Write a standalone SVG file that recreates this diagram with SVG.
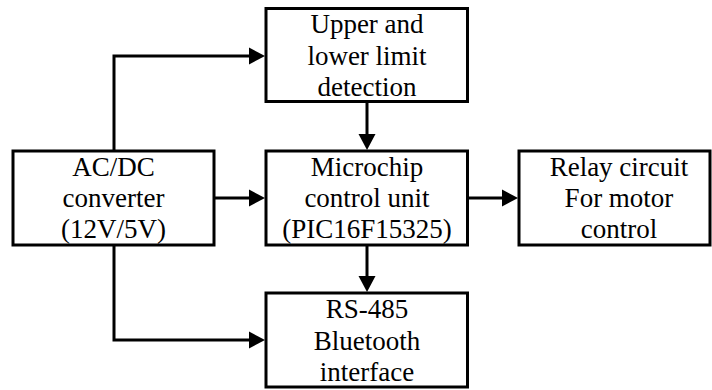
<svg xmlns="http://www.w3.org/2000/svg" width="712" height="390" viewBox="0 0 712 390">
<style>
.box{fill:#fff;stroke:#000;stroke-width:3}
.c{fill:none;stroke:#000;stroke-width:3}
</style>
<defs>
<marker id="ah" markerUnits="userSpaceOnUse" markerWidth="17" markerHeight="18" refX="0" refY="8.5" orient="auto" overflow="visible">
<path d="M0,0 L16,8.5 L0,17 z" fill="#000"/>
</marker>
</defs>
<rect width="712" height="390" fill="#fff"/>
<g id="connectors">
<path class="c" d="M114,151 V56 H249" marker-end="url(#ah)"/>
<path class="c" d="M214,198 H249" marker-end="url(#ah)"/>
<path class="c" d="M367,102 V134" marker-end="url(#ah)"/>
<path class="c" d="M468,198 H502" marker-end="url(#ah)"/>
<path class="c" d="M367,245 V276" marker-end="url(#ah)"/>
<path class="c" d="M114,245 V340 H249" marker-end="url(#ah)"/>
</g>
<g font-family="Liberation Serif" font-size="27" text-anchor="middle" fill="#000">
<g id="limit">
<rect class="box" x="266" y="8.5" width="201.5" height="93"/>
<text x="367" y="33" font-family="Liberation Serif">Upper and</text>
<text x="367" y="64.5" font-family="Liberation Serif">lower limit</text>
<text x="367" y="96" font-family="Liberation Serif">detection</text>
</g>
<g id="acdc">
<rect class="box" x="13" y="151" width="201" height="94"/>
<text x="113.5" y="176" font-family="Liberation Serif">AC/DC</text>
<text x="113.5" y="207" font-family="Liberation Serif">converter</text>
<text x="113.5" y="238" font-family="Liberation Serif">(12V/5V)</text>
</g>
<g id="mcu">
<rect class="box" x="266" y="151" width="201.5" height="94"/>
<text x="367" y="176" font-family="Liberation Serif">Microchip</text>
<text x="367" y="207" font-family="Liberation Serif">control unit</text>
<text x="367" y="238" font-family="Liberation Serif">(PIC16F15325)</text>
</g>
<g id="relay">
<rect class="box" x="519" y="151" width="191" height="94"/>
<text x="619" y="176" font-family="Liberation Serif">Relay circuit</text>
<text x="619" y="207" font-family="Liberation Serif">For motor</text>
<text x="619" y="238" font-family="Liberation Serif">control</text>
</g>
<g id="comm">
<rect class="box" x="266" y="293" width="201.5" height="94"/>
<text x="367" y="318" font-family="Liberation Serif">RS-485</text>
<text x="367" y="350" font-family="Liberation Serif">Bluetooth</text>
<text x="367" y="381" font-family="Liberation Serif">interface</text>
</g>
</g>
</svg>
